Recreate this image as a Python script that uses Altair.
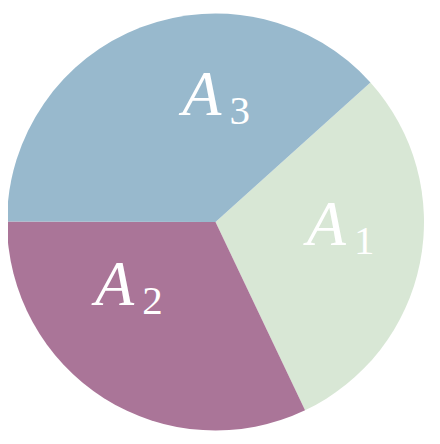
import math
import altair as alt
import pandas as pd

categories = ["A1", "A2", "A3"]
letters = ["A", "A", "A"]
subscripts = ["1", "2", "3"]
values = [29.6, 32.1, 38.3]
colors = ["#d8e7d5", "#aa7598", "#98b9cd"]

df = pd.DataFrame({
    "cat": categories,
    "letter": letters,
    "sub": subscripts,
    "value": values,
    "order": list(range(len(categories))),
})

start = math.radians(48)
theta_scale = alt.Scale(domain=[0, sum(values)], range=[start, start + 2 * math.pi])

base = alt.Chart(df).transform_window(
    end="sum(value)", sort=[{"field": "order"}], frame=[None, 0]
).transform_calculate(
    start="datum.end - datum.value",
    mid="datum.end - datum.value / 2",
)

arcs = base.mark_arc(outerRadius=208.5).encode(
    theta=alt.Theta("start:Q", scale=theta_scale, stack=None),
    theta2="end:Q",
    color=alt.Color("cat:N", scale=alt.Scale(domain=categories, range=colors), legend=None),
)

# label placement tweaks (style): (dx, dy) per slice
offsets = {"A1": (-1, 1), "A2": (-40, -13), "A3": (27, -1)}

layers = [arcs]
for c in categories:
    dx, dy = offsets[c]
    f = base.transform_filter(alt.datum.cat == c)
    layers.append(
        f.mark_text(font="Liberation Serif", fontStyle="italic", fontSize=64, color="white",
                    align="center", baseline="alphabetic", radius=114, dx=dx, dy=dy).encode(
            theta=alt.Theta("mid:Q", scale=theta_scale, stack=None),
            text="letter:N",
        )
    )
    layers.append(
        f.mark_text(font="Liberation Serif", fontSize=41, color="white",
                    align="center", baseline="alphabetic", radius=114, dx=dx + 38, dy=dy + 9).encode(
            theta=alt.Theta("mid:Q", scale=theta_scale, stack=None),
            text="sub:N",
        )
    )

chart = alt.layer(*layers).properties(
    width=415, height=428,
    autosize=alt.AutoSizeParams(type="none"),
    padding={"left": 0, "top": 0, "right": 9, "bottom": 0},
).configure_view(stroke=None)

chart.save("out.html", embed_options={"renderer": "svg", "actions": False})
